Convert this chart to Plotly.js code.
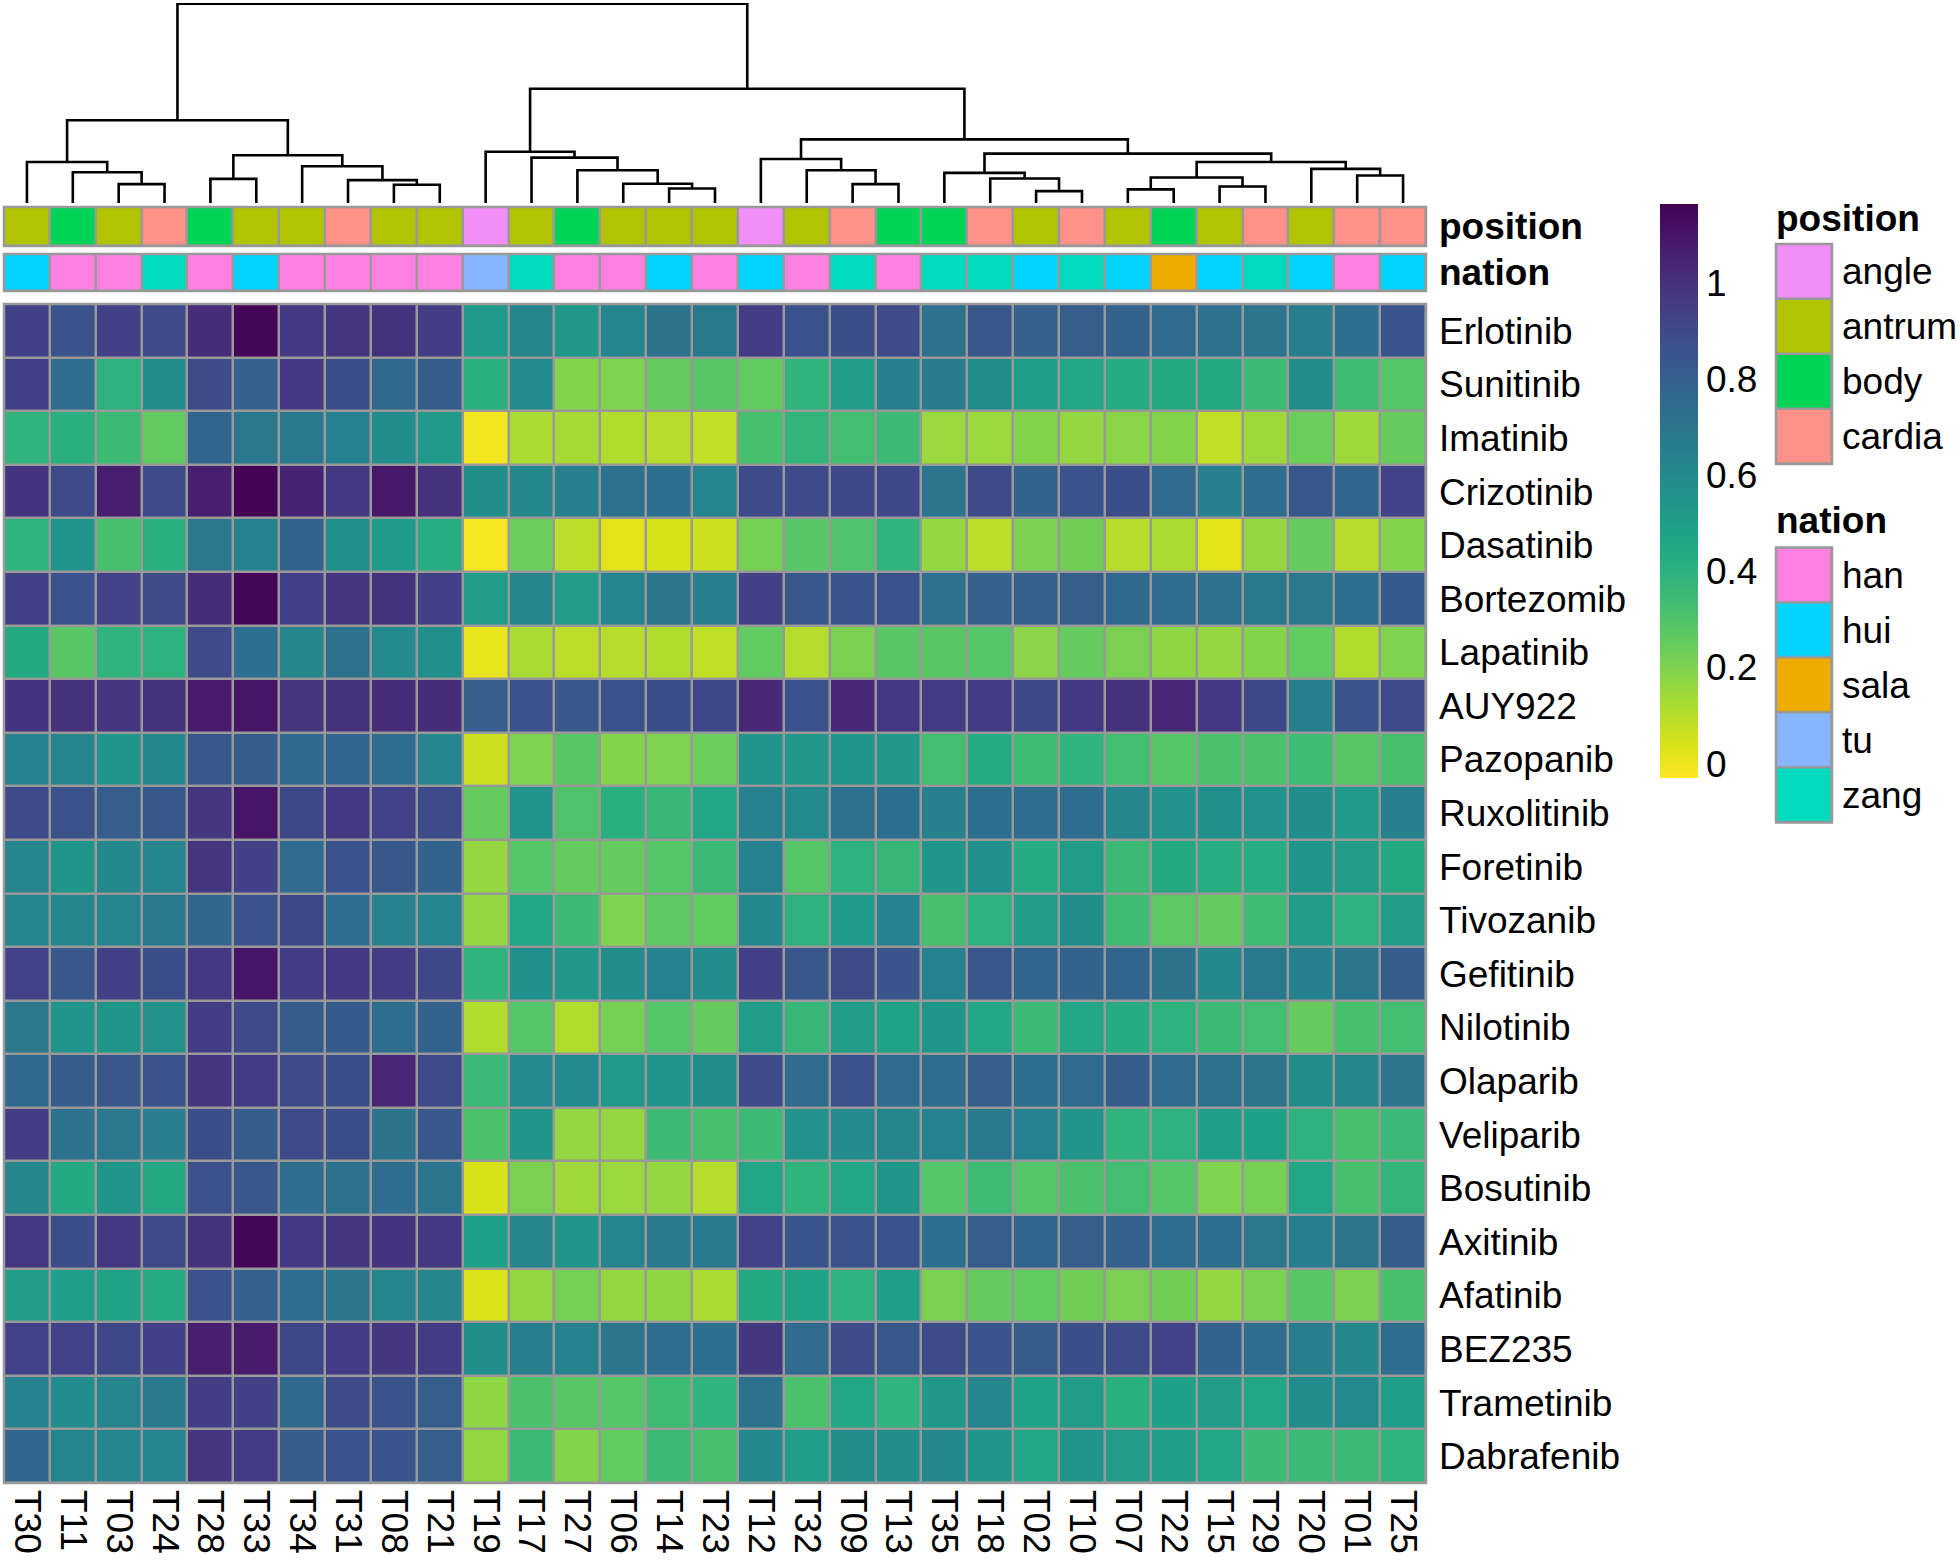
<!DOCTYPE html>
<html><head><meta charset="utf-8">
<script src="https://cdn.plot.ly/plotly-3.0.1.min.js"></script>
<style>html,body{margin:0;padding:0;background:#fff}#chart{width:1960px;height:1560px}</style>
</head><body><div id="chart"></div>
<script>
// ---------- data ----------
const samples = ['T30','T11','T03','T24','T28','T33','T34','T31','T08','T21','T19','T17','T27','T06','T14','T23','T12','T32','T09','T13','T35','T18','T02','T10','T07','T22','T15','T29','T20','T01','T25'];
const drugs = ['Erlotinib','Sunitinib','Imatinib','Crizotinib','Dasatinib','Bortezomib','Lapatinib','AUY922','Pazopanib','Ruxolitinib','Foretinib','Tivozanib','Gefitinib','Nilotinib','Olaparib','Veliparib','Bosutinib','Axitinib','Afatinib','BEZ235','Trametinib','Dabrafenib'];

const positionOfSample = ['antrum','body','antrum','cardia','body','antrum','antrum','cardia','antrum','antrum','angle','antrum','body','antrum','antrum','antrum','angle','antrum','cardia','body','body','cardia','antrum','cardia','antrum','body','antrum','cardia','antrum','cardia','cardia'];
const nationOfSample = ['hui','han','han','zang','han','hui','han','han','han','han','tu','zang','han','han','hui','han','hui','han','zang','han','zang','zang','hui','zang','hui','sala','hui','zang','hui','han','hui'];

const positionLevels = ['angle','antrum','body','cardia'];
const positionColors = ['#F28EF8','#B2C400','#00D456','#FF9188'];
const nationLevels = ['han','hui','sala','tu','zang'];
const nationColors = ['#FF80E0','#00D4FF','#EEAB00','#86B4FF','#00DABD'];

const colorbarTicks = [0, 0.2, 0.4, 0.6, 0.8, 1];
const colorbarTickText = ['0', '0.2', '0.4', '0.6', '0.8', '1'];

// values per drug, in sample order above
const erlotinib   = [0.94,0.86,0.94,0.90,1.02,1.15,0.97,0.98,1.00,0.95,0.52,0.62,0.53,0.63,0.71,0.68,0.95,0.87,0.88,0.89,0.72,0.84,0.80,0.81,0.79,0.75,0.72,0.70,0.66,0.73,0.85];
const sunitinib   = [0.94,0.74,0.40,0.59,0.89,0.80,0.97,0.88,0.76,0.82,0.41,0.60,0.19,0.20,0.25,0.28,0.26,0.39,0.51,0.65,0.67,0.58,0.50,0.46,0.43,0.45,0.45,0.35,0.58,0.34,0.29];
const imatinib    = [0.39,0.41,0.35,0.26,0.78,0.69,0.68,0.64,0.59,0.52,-0.01,0.12,0.13,0.11,0.10,0.08,0.32,0.38,0.33,0.35,0.15,0.15,0.19,0.16,0.18,0.19,0.08,0.14,0.24,0.14,0.25];
const crizotinib  = [0.99,0.90,1.07,0.90,1.07,1.16,1.05,0.97,1.09,1.00,0.58,0.61,0.65,0.72,0.73,0.63,0.90,0.90,0.91,0.91,0.70,0.89,0.79,0.86,0.88,0.75,0.65,0.74,0.84,0.78,0.93];
const dasatinib   = [0.39,0.55,0.32,0.41,0.69,0.64,0.79,0.57,0.52,0.42,-0.02,0.24,0.09,0.02,0.04,0.06,0.22,0.28,0.30,0.39,0.16,0.09,0.21,0.23,0.10,0.12,0.02,0.16,0.25,0.10,0.19];
const bortezomib  = [0.94,0.87,0.93,0.89,1.02,1.15,0.94,0.98,1.00,0.94,0.51,0.62,0.51,0.63,0.70,0.65,0.94,0.84,0.85,0.87,0.72,0.80,0.80,0.81,0.76,0.74,0.72,0.68,0.69,0.73,0.83];
const lapatinib   = [0.44,0.28,0.39,0.40,0.90,0.73,0.62,0.72,0.60,0.57,0.01,0.12,0.09,0.10,0.11,0.08,0.26,0.10,0.21,0.28,0.28,0.29,0.18,0.25,0.21,0.17,0.16,0.19,0.26,0.11,0.20];
const auy922      = [0.99,1.00,0.98,1.00,1.08,1.10,0.98,1.00,1.02,1.02,0.81,0.87,0.84,0.87,0.88,0.91,1.03,0.87,1.03,0.97,0.96,0.96,0.91,0.97,1.00,1.04,0.97,0.91,0.66,0.86,0.90];
const pazopanib   = [0.64,0.63,0.55,0.61,0.84,0.82,0.76,0.78,0.74,0.63,0.06,0.20,0.28,0.19,0.20,0.24,0.55,0.53,0.54,0.53,0.33,0.43,0.34,0.39,0.33,0.29,0.31,0.31,0.34,0.28,0.32];
const ruxolitinib = [0.90,0.86,0.81,0.84,0.98,1.10,0.91,0.97,0.93,0.89,0.25,0.55,0.30,0.41,0.37,0.46,0.64,0.60,0.72,0.73,0.65,0.73,0.74,0.74,0.62,0.56,0.57,0.56,0.58,0.52,0.65];
const foretinib   = [0.63,0.54,0.61,0.63,0.98,0.94,0.75,0.87,0.84,0.79,0.16,0.29,0.25,0.25,0.29,0.35,0.64,0.29,0.40,0.37,0.54,0.57,0.43,0.51,0.35,0.44,0.42,0.42,0.54,0.51,0.45];
const tivozanib   = [0.63,0.62,0.63,0.68,0.77,0.86,0.91,0.74,0.64,0.63,0.16,0.46,0.35,0.20,0.27,0.26,0.61,0.40,0.52,0.64,0.32,0.40,0.51,0.58,0.34,0.27,0.25,0.34,0.51,0.40,0.51];
const gefitinib   = [0.93,0.84,0.94,0.88,0.97,1.10,0.96,0.97,0.96,0.91,0.39,0.57,0.53,0.58,0.64,0.59,0.94,0.84,0.89,0.85,0.64,0.84,0.78,0.79,0.78,0.71,0.61,0.68,0.65,0.70,0.82];
const nilotinib   = [0.69,0.55,0.54,0.56,0.95,0.90,0.82,0.83,0.74,0.79,0.11,0.29,0.11,0.22,0.29,0.25,0.51,0.37,0.51,0.48,0.54,0.46,0.35,0.46,0.43,0.40,0.35,0.33,0.25,0.32,0.33];
const olaparib    = [0.76,0.82,0.84,0.87,0.98,0.96,0.90,0.88,1.04,0.90,0.36,0.60,0.60,0.52,0.54,0.58,0.89,0.75,0.87,0.75,0.74,0.81,0.73,0.75,0.82,0.75,0.72,0.70,0.58,0.62,0.70];
const veliparib   = [0.95,0.72,0.69,0.66,0.88,0.82,0.90,0.88,0.71,0.84,0.31,0.54,0.16,0.16,0.35,0.32,0.35,0.56,0.60,0.62,0.64,0.68,0.64,0.54,0.39,0.40,0.50,0.49,0.40,0.32,0.36];
const bosutinib   = [0.62,0.44,0.54,0.45,0.87,0.84,0.74,0.72,0.74,0.70,0.04,0.21,0.14,0.15,0.16,0.10,0.46,0.39,0.46,0.54,0.29,0.34,0.29,0.31,0.33,0.29,0.20,0.22,0.46,0.32,0.38];
const axitinib    = [0.97,0.88,0.97,0.90,1.00,1.15,0.97,0.98,0.99,0.97,0.49,0.62,0.54,0.63,0.68,0.68,0.93,0.85,0.86,0.87,0.73,0.81,0.78,0.81,0.80,0.74,0.73,0.69,0.66,0.70,0.82];
const afatinib    = [0.51,0.50,0.48,0.43,0.87,0.80,0.74,0.70,0.63,0.62,0.03,0.16,0.22,0.16,0.17,0.12,0.45,0.48,0.40,0.50,0.21,0.25,0.26,0.23,0.21,0.23,0.16,0.21,0.28,0.21,0.32];
const bez235      = [0.93,0.93,0.91,0.94,1.07,1.08,0.91,0.96,0.98,0.96,0.58,0.66,0.64,0.70,0.74,0.73,0.98,0.75,0.89,0.84,0.89,0.85,0.82,0.88,0.89,0.93,0.79,0.74,0.66,0.61,0.74];
const trametinib  = [0.64,0.59,0.63,0.68,0.95,0.94,0.76,0.89,0.86,0.81,0.17,0.31,0.28,0.29,0.34,0.39,0.72,0.31,0.46,0.39,0.53,0.63,0.48,0.51,0.41,0.49,0.51,0.46,0.59,0.60,0.50];
const dabrafenib  = [0.78,0.63,0.63,0.63,0.98,0.96,0.82,0.87,0.85,0.81,0.16,0.35,0.19,0.26,0.35,0.32,0.61,0.50,0.58,0.58,0.61,0.54,0.46,0.54,0.51,0.50,0.46,0.35,0.35,0.35,0.39];

// column dendrogram as merges: negative = leaf -(index+1), positive = merge number (1-based); third item = height
const dendroMerges = [
  [-3,-4,57],[-2,1,93],[-1,2,124],[-5,-6,73],[-9,-10,55],[-8,5,69],[-7,6,111],[4,7,144],[3,8,250],
  [-15,-16,44],[-14,10,58],[-13,11,99],[-12,12,137],[-11,13,155],
  [-19,-20,57],[-18,15,99],[-17,16,133],
  [-23,-24,36],[-22,18,74],[-21,19,91],
  [-25,-26,41],[-27,-28,50],[21,22,77],[-30,-31,83],[-29,24,103],[23,25,124],
  [20,26,149],[17,27,192],[14,28,345],[9,29,602]
];

// ---------- build ----------
const values = [erlotinib,sunitinib,imatinib,crizotinib,dasatinib,bortezomib,lapatinib,auy922,pazopanib,ruxolitinib,foretinib,tivozanib,gefitinib,nilotinib,olaparib,veliparib,bosutinib,axitinib,afatinib,bez235,trametinib,dabrafenib];
const colIdx = samples.map((s,i)=>i);
const rowIdx = drugs.map((d,i)=>i);

const W = 1960, H = 1560;
const px = v => v / W;
const py = v => (H - v) / H;

const FONT = 'Liberation Sans, Arial, Helvetica, sans-serif';
const GREY = '#999999';

function discreteScale(colors){
  const n = colors.length;
  return colors.map((c,i)=>[i/(n-1), c]);
}

// dendrogram lines
const nodeX = [], nodeH = [];
function getPos(id){
  if (id < 0) return {x: -id - 1, h: 0};
  return {x: nodeX[id-1], h: nodeH[id-1]};
}
const dx = [], dy = [];
dendroMerges.forEach((m, k) => {
  const a = getPos(m[0]), b = getPos(m[1]), h = m[2];
  dx.push(a.x, a.x, b.x, b.x, null);
  dy.push(a.h, h, h, b.h, null);
  nodeX[k] = (a.x + b.x) / 2;
  nodeH[k] = h;
});

const traces = [];
traces.push({
  type:'heatmap', x: colIdx, y: rowIdx, z: values,
  colorscale:'Viridis', reversescale:true, zmin:-0.03, zmax:1.165,
  xgap:2.5, ygap:2.5, hoverinfo:'skip',
  colorbar:{
    x: px(1660), xanchor:'left', xref:'paper',
    y: py(204), yanchor:'top', yref:'paper',
    len: (778-204)/H, lenmode:'fraction',
    thickness: 38, thicknessmode:'pixels',
    outlinewidth:0, xpad:0, ypad:0,
    tickvals: colorbarTicks, ticktext: colorbarTickText,
    ticks:'', tickfont:{size:37, family:FONT, color:'#000'},
    ticklabelstandoff: 2
  },
  xaxis:'x', yaxis:'y'
});
traces.push({
  type:'heatmap', x: colIdx, y:[0],
  z:[positionOfSample.map(p=>positionLevels.indexOf(p))],
  colorscale: discreteScale(positionColors), zmin:0, zmax:positionLevels.length-1,
  showscale:false, xgap:2.5, ygap:2.5, hoverinfo:'skip', xaxis:'x', yaxis:'y2'
});
traces.push({
  type:'heatmap', x: colIdx, y:[0],
  z:[nationOfSample.map(p=>nationLevels.indexOf(p))],
  colorscale: discreteScale(nationColors), zmin:0, zmax:nationLevels.length-1,
  showscale:false, xgap:2.5, ygap:2.5, hoverinfo:'skip', xaxis:'x', yaxis:'y3'
});
traces.push({
  type:'scatter', mode:'lines', x: dx, y: dy, connectgaps:false,
  line:{color:'#000', width:2.6}, hoverinfo:'skip', showlegend:false,
  xaxis:'x', yaxis:'y4', cliponaxis:false
});
// legend swatches
traces.push({
  type:'heatmap', x:[0], y: positionLevels.map((p,i)=>i),
  z: positionLevels.map((p,i)=>[i]),
  colorscale: discreteScale(positionColors), zmin:0, zmax:positionLevels.length-1,
  showscale:false, xgap:2.5, ygap:2.5, hoverinfo:'skip', xaxis:'x5', yaxis:'y5'
});
traces.push({
  type:'heatmap', x:[0], y: nationLevels.map((p,i)=>i),
  z: nationLevels.map((p,i)=>[i]),
  colorscale: discreteScale(nationColors), zmin:0, zmax:nationLevels.length-1,
  showscale:false, xgap:2.5, ygap:2.5, hoverinfo:'skip', xaxis:'x5', yaxis:'y6'
});

const hidden = {visible:false, showgrid:false, zeroline:false, automargin:false};
const tf = {size:37, family:FONT, color:'#000'};
const tfb = {size:37, family:FONT, color:'#000', weight:'bold'};

function bgRect(xr, yr){
  return {type:'rect', xref: xr + ' domain', yref: yr + ' domain', x0:0, x1:1, y0:0, y1:1,
          fillcolor: GREY, line:{width:0}, layer:'below'};
}
function frameRect(xr, yr){
  return {type:'rect', xref: xr + ' domain', yref: yr + ' domain', x0:0, x1:1, y0:0, y1:1,
          fillcolor:'rgba(0,0,0,0)', line:{width:2.5, color:GREY}, layer:'above'};
}

const layout = {
  width: W, height: H,
  margin:{l:0, r:0, t:0, b:0, pad:0},
  paper_bgcolor:'#fff', plot_bgcolor:'#fff',
  font:{family:FONT, size:37, color:'#000'},
  showlegend:false,
  xaxis:{
    domain:[px(4), px(1426)], range:[-0.5, samples.length-0.5], anchor:'y',
    tickvals: colIdx, ticktext: samples, tickangle:90, ticks:'',
    tickfont: tf, showgrid:false, zeroline:false, showline:false,
    ticklabelstandoff: 6, automargin:false, fixedrange:true
  },
  yaxis:{
    domain:[py(1483), py(304)], range:[drugs.length-0.5, -0.5], anchor:'x', side:'right',
    tickvals: rowIdx, ticktext: drugs, ticks:'', tickfont: tf,
    showgrid:false, zeroline:false, showline:false, ticklabelstandoff: 12, automargin:false
  },
  yaxis2:{
    domain:[py(246), py(207)], range:[-0.5,0.5], anchor:'x', side:'right',
    tickvals:[0], ticktext:['position'], ticks:'', tickfont: tfb,
    showgrid:false, zeroline:false, ticklabelstandoff: 12, automargin:false
  },
  yaxis3:{
    domain:[py(291), py(254)], range:[-0.5,0.5], anchor:'x', side:'right',
    tickvals:[0], ticktext:['nation'], ticks:'', tickfont: tfb,
    showgrid:false, zeroline:false, ticklabelstandoff: 12, automargin:false
  },
  yaxis4: Object.assign({}, hidden, {domain:[py(203), py(3)], range:[0, 604], anchor:'x'}),
  xaxis5: Object.assign({}, hidden, {domain:[px(1776), px(1832)], range:[-0.5,0.5], anchor:'y5'}),
  yaxis5:{
    domain:[py(464), py(244)], range:[positionLevels.length-0.5, -0.5], anchor:'x5', side:'right',
    tickvals: positionLevels.map((p,i)=>i), ticktext: positionLevels, ticks:'', tickfont: tf,
    showgrid:false, zeroline:false, ticklabelstandoff: 9, automargin:false
  },
  yaxis6:{
    domain:[py(822.5), py(547.5)], range:[nationLevels.length-0.5, -0.5], anchor:'x5', side:'right',
    tickvals: nationLevels.map((p,i)=>i), ticktext: nationLevels, ticks:'', tickfont: tf,
    showgrid:false, zeroline:false, ticklabelstandoff: 9, automargin:false
  },
  shapes:[
    bgRect('x','y'), bgRect('x','y2'), bgRect('x','y3'), bgRect('x5','y5'), bgRect('x5','y6'),
    frameRect('x','y'), frameRect('x','y2'), frameRect('x','y3'), frameRect('x5','y5'), frameRect('x5','y6')
  ],
  annotations:[
    {xref:'paper', yref:'paper', x:px(1774), y:py(219), xanchor:'left', yanchor:'middle',
     text:'<b>position</b>', showarrow:false, font: tf},
    {xref:'paper', yref:'paper', x:px(1774), y:py(520), xanchor:'left', yanchor:'middle',
     text:'<b>nation</b>', showarrow:false, font: tf}
  ]
};

Plotly.newPlot('chart', traces, layout, {displayModeBar:false, staticPlot:true});
</script>
</body></html>
